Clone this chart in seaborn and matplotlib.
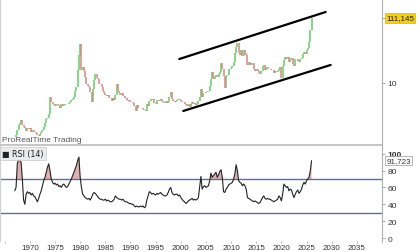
import numpy as np
import pandas as pd
import matplotlib
matplotlib.use("Agg")
import matplotlib.pyplot as plt
import seaborn as sns

# ---------------- data (quarterly, starting 1967 Q1) ----------------
start_year = 1967
price_close = [
    1.35, 1.45, 1.75, 2.1,      # 1967
    2.3, 2.5, 2.1, 1.95,        # 1968
    1.85, 1.7, 1.85, 1.8,       # 1969
    1.85, 1.65, 1.75, 1.6,      # 1970
    1.65, 1.55, 1.45, 1.4,      # 1971
    1.5, 1.6, 1.75, 1.95,       # 1972
    2.3, 2.6, 2.7, 3.2,         # 1973
    5.9, 5.0, 4.5, 4.4,         # 1974
    4.3, 4.6, 4.4, 4.2,         # 1975
    4.0, 4.6, 4.3, 4.4,         # 1976
    4.6, 4.5, 4.6, 4.8,         # 1977
    5.0, 5.3, 5.6, 6.0,         # 1978
    7.5, 8.5, 16.0, 28.0,       # 1979
    42.0, 16.0, 18.0, 15.5,     # 1980
    12.5, 9.5, 9.0, 8.5,        # 1981
    7.2, 4.9, 8.0, 11.0,        # 1982
    14.0, 12.0, 11.5, 9.5,      # 1983
    9.5, 8.5, 7.5, 6.8,         # 1984
    6.5, 6.1, 6.3, 5.8,         # 1985
    5.8, 5.2, 5.8, 5.4,         # 1986
    6.5, 9.6, 7.5, 6.8,         # 1987
    6.3, 7.0, 6.2, 6.1,         # 1988
    5.8, 5.3, 5.2, 5.4,         # 1989
    5.0, 4.9, 4.8, 4.2,         # 1990
    3.6, 4.4, 4.0, 3.9,         # 1991
    4.0, 4.0, 3.8, 3.7,         # 1992
    3.6, 4.5, 4.3, 5.1,         # 1993
    5.5, 5.3, 5.5, 4.8,         # 1994
    4.6, 5.4, 5.4, 5.2,         # 1995
    5.5, 5.1, 4.9, 4.8,         # 1996
    5.2, 4.7, 5.0, 6.0,         # 1997
    7.2, 5.6, 5.2, 5.0,         # 1998
    5.1, 5.3, 5.6, 5.4,         # 1999
    5.1, 5.0, 4.9, 4.6,         # 2000
    4.4, 4.3, 4.6, 4.1,         # 2001
    4.6, 4.9, 4.6, 4.7,         # 2002
    4.4, 4.6, 5.1, 5.9,         # 2003
    8.0, 5.9, 6.9, 6.8,         # 2004
    7.2, 7.1, 7.4, 8.8,         # 2005
    11.5, 15.0, 11.5, 12.9,     # 2006
    13.3, 12.4, 13.7, 14.8,     # 2007
    21.0, 17.0, 12.9, 8.3,      # 2008
    13.1, 13.6, 16.6, 16.9,     # 2009
    17.5, 18.7, 21.8, 30.6,     # 2010
    37.9, 44.0, 30.0, 28.0,     # 2011
    34.0, 27.5, 34.5, 30.0,     # 2012
    28.5, 19.7, 21.7, 19.5,     # 2013
    19.7, 21.0, 17.0, 15.5,     # 2014
    16.6, 15.6, 14.5, 13.8,     # 2015
    15.5, 18.7, 19.5, 16.0,     # 2016
    18.2, 16.6, 16.8, 17.0,     # 2017
    16.3, 16.1, 14.7, 15.5,     # 2018
    15.1, 15.3, 17.0, 17.9,     # 2019
    12.0, 18.5, 23.5, 26.4,     # 2020
    24.5, 26.2, 22.0, 23.3,     # 2021
    25.0, 20.3, 19.0, 24.0,     # 2022
    24.0, 23.0, 22.1, 24.0,     # 2023
    25.0, 29.1, 31.2, 29.0,     # 2024
    34.2, 36.0, 46.5, 72.0,     # 2025
    111.145,                    # 2026
]
rsi_values = [
    56, 60, 88, 93,   92, 90, 70, 45,   40, 52, 55, 53,   54, 51, 53, 50,
    49, 46, 43, 47,   52, 56, 62, 68,   72, 78, 84, 88,   80, 70, 66, 64,
    65, 63, 64, 61,   62, 60, 63, 64,   62, 60, 61, 64,   67, 70, 74, 78,
    82, 86, 92, 96,   72, 60, 52, 50,   48, 47, 46, 47,   45, 48, 52, 54,
    53, 51, 49, 47,   46, 46, 45, 45,   46, 44, 45, 44,   43, 43, 44, 46,
    50, 48, 47, 46,   46, 45, 46, 44,   43, 43, 42, 41,   41, 40, 40, 38,
    37, 38, 37, 37,   38, 37, 38, 36,   37, 45, 50, 55,   54, 52, 53, 52,
    51, 53, 52, 53,   54, 52, 51, 50,   50, 51, 54, 58,   60, 54, 52, 51,
    52, 52, 50, 51,   48, 46, 44, 43,   41, 42, 44, 45,   46, 47, 45, 46,
    45, 46, 48, 60,   73, 58, 61, 62,   60, 61, 62, 68,   77, 72, 74, 76,
    78, 72, 75, 79,   81, 72, 55, 54,   58, 60, 63, 64,   65, 66, 70, 76,
    87, 80, 68, 66,   65, 62, 64, 62,   58, 48, 47, 46,   45, 44, 43, 44,
    43, 42, 41, 42,   45, 48, 50, 47,   46, 47, 46, 46,   45, 44, 43, 44,
    45, 46, 50, 48,   44, 52, 64, 62,   60, 61, 56, 58,   57, 52, 48, 52,
    55, 57, 53, 55,   58, 63, 66, 64,   68, 70, 72, 80,   91.723,
]
last_price_label = "111,145"
last_rsi_label = "91,723"
# channel (trend) lines: (year, price) endpoints
upper_line_x = [1999.7, 2028.8]
upper_line_y = [24.3, 139.0]
lower_line_x = [2000.5, 2029.8]
lower_line_y = [3.54, 19.5]
x_tick_years = list(range(1965, 2041, 5))
rsi_ticks = [0, 20, 40, 60, 80, 100]
price_ticks = [10, 111.145]

# ---------------- figure ----------------
sns.set_style("white")
plt.rcParams["font.family"] = ["Liberation Sans", "DejaVu Sans"]

fig = plt.figure(figsize=(4.2, 2.53), dpi=100)
ax1 = fig.add_axes([0.0, 1 - 145 / 253, 382 / 420, 145 / 253])
ax2 = fig.add_axes([0.0, 1 - 242 / 253, 382 / 420, 96 / 253], sharex=ax1)

n = len(price_close)
t = start_year + np.arange(n) / 4.0
df = pd.DataFrame({"t": t, "close": price_close, "rsi": rsi_values})
df["open"] = df["close"].shift(1).fillna(df["close"])
up = df["close"] >= df["open"]

green = "#66cc66"
red = "#d98585"
ax1.vlines(df.loc[up, "t"], df.loc[up, "open"], df.loc[up, "close"], color=green, lw=1.1)
ax1.vlines(df.loc[~up, "t"], df.loc[~up, "open"], df.loc[~up, "close"], color=red, lw=1.1)

sns.lineplot(x=upper_line_x, y=upper_line_y, ax=ax1, color="black", lw=1.6)
sns.lineplot(x=lower_line_x, y=lower_line_y, ax=ax1, color="black", lw=1.6)

ax1.set_yscale("log")
ax1.set_ylim(1.04, 225)
ax1.set_xlim(1964.06, 2039.9)

# RSI panel
ax2.axhline(70, color="#6868a8", lw=1.0)
ax2.axhline(30, color="#6868a8", lw=1.0)
ax2.fill_between(df["t"], df["rsi"], 70, where=df["rsi"] > 70, interpolate=True,
                 color="#d9a3a3", alpha=0.85, lw=0)
sns.lineplot(data=df, x="t", y="rsi", ax=ax2, color="#222222", lw=0.8)
ax2.set_ylim(-3.5, 110.3)
ax2.axhline(110.3, color="#bbbbbb", lw=1.2, clip_on=False)

# axes styling
for ax in (ax1, ax2):
    ax.set_xlabel("")
    ax.set_ylabel("")
    ax.yaxis.tick_right()
    for s in ("top", "bottom"):
        ax.spines[s].set_visible(False)
    ax.spines["right"].set_color("#b0b0b0")
    ax.spines["left"].set_color("#d0d0d0")
    ax.tick_params(axis="y", which="both", direction="out", length=2.5, width=0.6,
                   color="#999999", labelsize=6.0, labelcolor="#333333", pad=1.5)

ax1.yaxis.set_minor_locator(matplotlib.ticker.NullLocator())
ax1.set_yticks(price_ticks)
ax1.set_yticklabels(["10", ""])
ax1.tick_params(axis="x", which="both", bottom=False, labelbottom=False)

ax2.set_yticks(rsi_ticks)
ax2.set_yticklabels([str(v) for v in rsi_ticks])
for lbl in ax2.get_yticklabels():
    if lbl.get_text() == "100":
        lbl.set_fontweight("bold")

ax2.set_xticks(x_tick_years)
ax2.set_xticklabels(["" if y in (1965, 2040) else str(y) for y in x_tick_years])
ax2.tick_params(axis="x", direction="out", length=1.5, width=0.6, color="#aaaaaa",
                labelsize=5.8, labelcolor="#333333", pad=0.6, bottom=True)

# value boxes on the right axis
ax1.annotate(last_price_label, xy=(1.0, price_close[-1]), xycoords=("axes fraction", "data"),
             xytext=(3.0, 0), textcoords="offset points", ha="left", va="center",
             fontsize=5.8, color="#222222", annotation_clip=False,
             bbox=dict(boxstyle="square,pad=0.15", fc="#f2cf1d", ec="#d8b400", lw=0.5))
ax2.annotate(last_rsi_label, xy=(1.0, rsi_values[-1]), xycoords=("axes fraction", "data"),
             xytext=(3.0, 0), textcoords="offset points", ha="left", va="center",
             fontsize=5.8, color="#333333", annotation_clip=False,
             bbox=dict(boxstyle="square,pad=0.15", fc="white", ec="#999999", lw=0.5))

# texts
ax1.text(0.005, 0.005, "ProRealTime Trading", transform=ax1.transAxes, ha="left", va="bottom",
         fontsize=6.0, color="#555555")
ax2.text(0.006, 0.955, "\u25a0 RSI (14)", transform=ax2.transAxes, ha="left", va="top",
         fontsize=5.8, color="#222222", family=["DejaVu Sans"],
         bbox=dict(boxstyle="square,pad=0.25", fc="#e9ecef", ec="#c8c8c8", lw=0.5))

fig.savefig("out.png", dpi=100)
